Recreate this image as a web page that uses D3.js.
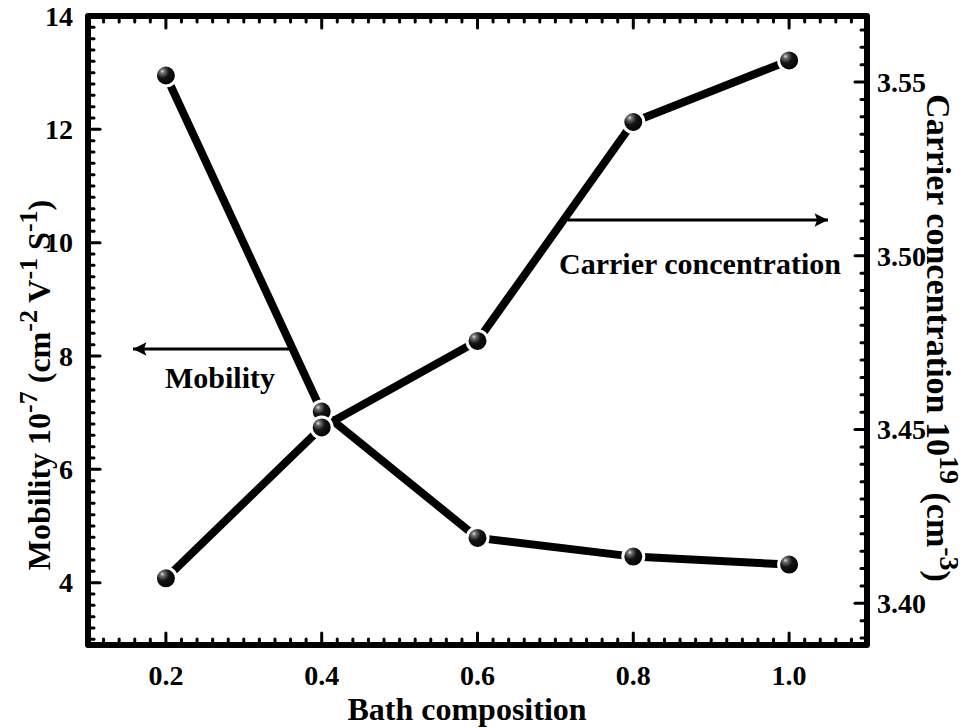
<!DOCTYPE html>
<html><head><meta charset="utf-8">
<script src="https://cdn.jsdelivr.net/npm/d3@7"></script>
<style>body{margin:0;background:#fff}svg{display:block}</style>
</head><body>
<svg id="chart" width="980" height="728"></svg>
<script>
// ---- data ----
const composition = [0.2, 0.4, 0.6, 0.8, 1.0];
const mobility = [12.95, 7.02, 4.79, 4.46, 4.32];
const carrier = [3.4072, 3.4506, 3.4755, 3.5385, 3.5562];
const xTicks = [0.2, 0.4, 0.6, 0.8, 1.0];
const xTickLabels = ["0.2", "0.4", "0.6", "0.8", "1.0"];
const leftTicks = [4, 6, 8, 10, 12, 14];
const rightTicks = [3.40, 3.45, 3.50, 3.55];
const rightTickLabels = ["3.40", "3.45", "3.50", "3.55"];

const svg = d3.select("#chart");
const L = 88, R = 867, T = 16, B = 645;
const x = d3.scaleLinear().domain([0.1, 1.1]).range([L, R]);
const yL = d3.scaleLinear().domain([2.9, 14]).range([B, T]);
const yR = d3.scaleLinear().domain([3.388, 3.569]).range([B, T]);
const font = "'Liberation Serif','Times New Roman',serif";

const defs = svg.append("defs");
const grad = defs.append("radialGradient").attr("id", "ball")
  .attr("cx", "0.35").attr("cy", "0.32").attr("r", "0.7").attr("fx", "0.33").attr("fy", "0.3");
grad.append("stop").attr("offset", "0").attr("stop-color", "#e0e0e0");
grad.append("stop").attr("offset", "0.15").attr("stop-color", "#707070");
grad.append("stop").attr("offset", "0.45").attr("stop-color", "#141414");
grad.append("stop").attr("offset", "1").attr("stop-color", "#000");

// ---- ticks (inward) ----
const tickG = svg.append("g").attr("stroke", "#000").attr("stroke-width", 3).attr("stroke-linecap", "round");
const xMinor = d3.range(0.1, 1.1001, 0.02).map(v => +v.toFixed(3));
xMinor.forEach(v => {
  const major = xTicks.some(t => Math.abs(t - v) < 1e-6);
  const len = major ? 12 : 6;
  tickG.append("line").attr("x1", x(v)).attr("x2", x(v)).attr("y1", B).attr("y2", B - len);
  tickG.append("line").attr("x1", x(v)).attr("x2", x(v)).attr("y1", T).attr("y2", T + len);
});
const lMinor = d3.range(3.0, 14.0001, 0.2).map(v => +v.toFixed(2));
lMinor.forEach(v => {
  const major = leftTicks.some(t => Math.abs(t - v) < 1e-6);
  const len = major ? 12 : 6;
  tickG.append("line").attr("x1", L).attr("x2", L + len).attr("y1", yL(v)).attr("y2", yL(v));
});
const rMinor = d3.range(3.39, 3.5691, 0.005).map(v => +v.toFixed(3));
rMinor.forEach(v => {
  const major = rightTicks.some(t => Math.abs(t - v) < 1e-6);
  const len = major ? 12 : 6;
  tickG.append("line").attr("x1", R).attr("x2", R - len).attr("y1", yR(v)).attr("y2", yR(v));
});

// ---- frame ----
svg.append("rect").attr("x", L).attr("y", T).attr("width", R - L).attr("height", B - T)
  .attr("fill", "none").attr("stroke", "#000").attr("stroke-width", 6).attr("stroke-linejoin", "round");

// ---- tick labels ----
const lab = svg.append("g").attr("font-family", font).attr("font-weight", "bold").attr("font-size", 28).attr("fill", "#000");
xTicks.forEach((v, i) => lab.append("text").attr("x", x(v)).attr("y", 685).attr("text-anchor", "middle").text(xTickLabels[i]));
leftTicks.forEach(v => lab.append("text").attr("x", 73).attr("y", yL(v)).attr("dy", "0.35em").attr("text-anchor", "end").text(v));
rightTicks.forEach((v, i) => lab.append("text").attr("x", 877).attr("y", yR(v)).attr("dy", "0.35em").attr("text-anchor", "start").text(rightTickLabels[i]));

// ---- axis titles ----
svg.append("text").attr("x", 467).attr("y", 720).attr("text-anchor", "middle")
  .attr("font-family", font).attr("font-weight", "bold").attr("font-size", 32).text("Bath composition");

function sup(t, parts, big, small, rise) {
  parts.forEach(p => {
    if (p.s) t.append("tspan").attr("dy", -rise).attr("font-size", small).text(p.s);
    else t.append("tspan").attr("dy", p.first ? 0 : rise).attr("font-size", big).text(p.t);
  });
}
const lt = svg.append("text").attr("transform", "translate(50,385) rotate(-90)").attr("text-anchor", "middle")
  .attr("font-family", font).attr("font-weight", "bold");
sup(lt, [{t: "Mobility 10", first: true}, {s: "-7"}, {t: " (cm"}, {s: "-2"}, {t: " V"}, {s: "-1"}, {t: " S"}, {s: "-1"}, {t: ")"}], 32, 26, 13);

const rt = svg.append("text").attr("transform", "translate(927,338) rotate(90)").attr("text-anchor", "middle")
  .attr("font-family", font).attr("font-weight", "bold");
sup(rt, [{t: "Carrier concentration 10", first: true}, {s: "19"}, {t: " (cm"}, {s: "-3"}, {t: ")"}], 34, 28, 13);

// ---- series ----
const lineMob = d3.line().x((d, i) => x(composition[i])).y(d => yL(d));
const lineCar = d3.line().x((d, i) => x(composition[i])).y(d => yR(d));
svg.append("path").datum(mobility).attr("d", lineMob).attr("fill", "none").attr("stroke", "#000").attr("stroke-width", 8).attr("stroke-linejoin", "round");
svg.append("path").datum(carrier).attr("d", lineCar).attr("fill", "none").attr("stroke", "#000").attr("stroke-width", 8).attr("stroke-linejoin", "round");

const mk = svg.append("g");
mobility.forEach((v, i) => mk.append("circle").attr("cx", x(composition[i])).attr("cy", yL(v)).attr("r", 10.5)
  .attr("fill", "url(#ball)").attr("stroke", "#fff").attr("stroke-width", 3));
carrier.forEach((v, i) => mk.append("circle").attr("cx", x(composition[i])).attr("cy", yR(v)).attr("r", 10.5)
  .attr("fill", "url(#ball)").attr("stroke", "#fff").attr("stroke-width", 3));

// ---- annotations ----
defs.append("marker").attr("id", "arrow").attr("viewBox", "0 0 10 10").attr("refX", 10).attr("refY", 5)
  .attr("markerWidth", 8.5).attr("markerHeight", 4.5).attr("markerUnits", "strokeWidth").attr("orient", "auto")
  .append("path").attr("d", "M0,0 L10,5 L0,10 L2,5 Z").attr("fill", "#000");
const ann = svg.append("g");
ann.append("line").attr("x1", 289).attr("x2", 133).attr("y1", 349).attr("y2", 349)
  .attr("stroke", "#000").attr("stroke-width", 3).attr("marker-end", "url(#arrow)");
ann.append("text").attr("x", 220).attr("y", 388).attr("text-anchor", "middle").attr("font-family", font)
  .attr("font-weight", "bold").attr("font-size", 30).text("Mobility");
ann.append("line").attr("x1", 568).attr("x2", 828).attr("y1", 220).attr("y2", 220)
  .attr("stroke", "#000").attr("stroke-width", 3).attr("marker-end", "url(#arrow)");
ann.append("text").attr("x", 700).attr("y", 274).attr("text-anchor", "middle").attr("font-family", font)
  .attr("font-weight", "bold").attr("font-size", 30).text("Carrier concentration");
</script>
</body></html>
